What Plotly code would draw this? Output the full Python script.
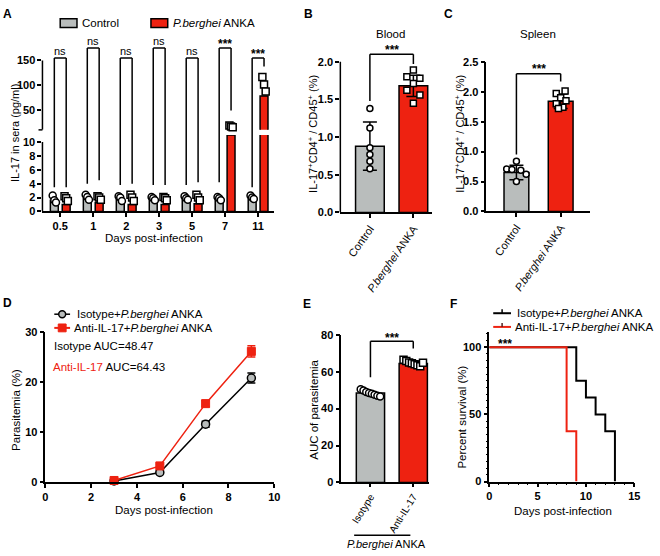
import plotly.graph_objects as go

W, H = 660, 556
GRAY = '#b9bdbc'
RED = '#ee2211'
FONT = 'Liberation Sans, Arial, sans-serif'

# --- Panel A: serum IL-17 by day ---
days = ['0.5', '1', '2', '3', '5', '7', '11']
ctrl_mean = [1.6, 1.9, 1.7, 1.8, 1.9, 1.8, 2.0]
pba_mean = [1.0, 1.3, 1.0, 1.0, 1.1, 11.0, 79.0]
ctrl_pts = [[2.3, 1.6, 1.3], [2.4, 2.1, 1.7], [2.2, 2.0, 1.5], [2.1, 1.9, 1.6],
            [2.2, 1.9, 1.7], [2.1, 1.9, 1.6], [2.3, 2.0, 1.8]]
pba_pts = [[2.2, 1.9, 1.5], [2.2, 2.0, 1.7], [2.4, 2.0, 1.5], [2.1, 1.9, 1.6],
           [2.4, 2.0, 1.6], [20.0, 18.0, 16.0], [117.0, 102.0, 88.0]]
sig_a = ['ns', 'ns', 'ns', 'ns', 'ns', '***', '***']
bracket_top_a = [155, 175, 155, 175, 155, 175, 155]
left_leg_a = [3.5, 4.0, 3.8, 3.8, 3.8, 4.2, 3.5]
right_leg_a = [3.5, 4.5, 4.0, 3.8, 4.2, 50, 138]
right_leg_upper = [False, False, False, False, False, True, True]

# --- Panel B / C: IL-17+CD4+ / CD45+ ---
groups_bc = ['Control', '<i>P.berghei</i> ANKA']
blood_mean = [0.88, 1.68]
blood_sd = [0.32, 0.14]
blood_ctrl = [1.38, 1.12, 0.86, 0.77, 0.68, 0.58]
blood_pba = [1.89, 1.80, 1.78, 1.71, 1.62, 1.56, 1.45]
spleen_mean = [0.65, 1.84]
spleen_sd = [0.12, 0.12]
spleen_ctrl = [0.84, 0.71, 0.70, 0.69, 0.62, 0.50]
spleen_pba = [2.01, 1.97, 1.90, 1.85, 1.80, 1.74, 1.72]

# --- Panel D: parasitemia ---
para_days = [3, 5, 7, 9]
iso_para = [0.3, 2.0, 11.6, 20.8]
iso_sem = [0.2, 0.3, 0.6, 1.0]
anti_para = [0.4, 3.3, 15.7, 26.1]
anti_sem = [0.2, 0.4, 0.6, 1.1]

# --- Panel E: AUC ---
groups_e = ['Isotype', 'Anti-IL-17']
auc_mean = [48.47, 64.43]
auc_iso = [50.5, 49.8, 49.0, 48.5, 48.0, 47.5, 47.0, 46.5]
auc_anti = [66.5, 65.8, 65.0, 64.5, 64.0, 63.5, 63.0, 64.8]

# --- Panel F: survival ---
surv_iso_days = [0, 9, 10, 11, 12, 13]
surv_iso = [100, 75, 62.5, 50, 37.5, 0]
surv_anti_days = [0, 8, 9]
surv_anti = [100, 37.5, 0]


def px(x):
    return x / W


def py(y):
    return 1 - y / H


def dom_x(a, b):
    return [a / W, b / W]


def dom_y(top, bottom):
    return [1 - bottom / H, 1 - top / H]


def bar_marker(color):
    return dict(color=color, line=dict(color='black', width=1.5))


def dot(symbol, size=7, fill='white'):
    return dict(symbol=symbol, size=size, color=fill, line=dict(color='black', width=1.5))


def spread(center, n, step):
    return [center + (k - (n - 1) / 2) * step for k in range(n)]


fig = go.Figure()
shapes = []
anns = []


def line(x0, y0, x1, y1, color='black', width=1.5, xref='paper', yref='paper'):
    shapes.append(dict(type='line', x0=x0, y0=y0, x1=x1, y1=y1, xref=xref, yref=yref,
                       line=dict(color=color, width=width)))


def text(t, x, y, size=11, bold=False, angle=0, xanchor='center', color='black'):
    anns.append(dict(text=t, x=px(x), y=py(y), xref='paper', yref='paper', showarrow=False,
                     xanchor=xanchor, yanchor='middle', textangle=angle,
                     font=dict(family=FONT, size=size, color=color,
                               weight='bold' if bold else 'normal')))


# ---------- Panel A (broken y axis) ----------
A_CUT = 11
OFF = 0.18
xc = [i - OFF for i in range(len(days))]
xp = [i + OFF for i in range(len(days))]
jit = [-0.05, 0.0, 0.05]
for ya in ['y', 'y2']:
    upper = ya == 'y2'

    def keep(v):
        if upper:
            return v if v > A_CUT else None
        return v

    fig.add_trace(go.Bar(x=xc, y=[keep(v) for v in ctrl_mean], width=0.24, marker=bar_marker(GRAY),
                         xaxis='x', yaxis=ya))
    fig.add_trace(go.Bar(x=xp, y=[keep(v) for v in pba_mean], width=0.24, marker=bar_marker(RED),
                         xaxis='x', yaxis=ya))
    for xs0, pts, sym in [(xc, ctrl_pts, 'circle'), (xp, pba_pts, 'square')]:
        xs, ys = [], []
        for i, vals in enumerate(pts):
            for j, v in enumerate(vals):
                if (v > A_CUT) == upper:
                    xs.append(xs0[i] + jit[j])
                    ys.append(v)
        fig.add_trace(go.Scatter(x=xs, y=ys, mode='markers', marker=dot(sym), cliponaxis=not upper,
                                 xaxis='x', yaxis=ya))

# pixel geometry of the two segments
A_LO = (0, 11, 210, 131.9)
A_HI = (11, 180, 126.6, 40.4)


def seg(v, s):
    v0, v1, p0, p1 = s
    return py(p0 + (p1 - p0) * (v - v0) / (v1 - v0))


for i in range(len(days)):
    top = seg(bracket_top_a[i], A_HI)
    line(xc[i], top, xp[i], top, xref='x')
    line(xc[i], top, xc[i], seg(left_leg_a[i], A_LO), xref='x')
    rb = seg(right_leg_a[i], A_HI) if right_leg_upper[i] else seg(right_leg_a[i], A_LO)
    line(xp[i], top, xp[i], rb, xref='x')
    ns = sig_a[i] == 'ns'
    anns.append(dict(text=sig_a[i], x=i, y=top, xref='x', yref='paper', showarrow=False,
                     yanchor='bottom', yshift=-1 if ns else -5,
                     font=dict(family=FONT, size=11 if ns else 12, color='black',
                               weight='normal' if ns else 'bold')))
# y axis segments (broken axis)
line(px(40), 0, px(40), 10, yref='y')
line(px(40), A_CUT, px(40), 150, yref='y2')
line(px(36), seg(A_CUT, A_HI), px(40), seg(A_CUT, A_HI))

# legend A
shapes.append(dict(type='rect', x0=px(58), x1=px(75), y0=py(13), y1=py(22), xref='paper', yref='paper',
                   fillcolor=GRAY, line=dict(color='black', width=1.5)))
shapes.append(dict(type='rect', x0=px(150), x1=px(167), y0=py(13), y1=py(22), xref='paper', yref='paper',
                   fillcolor=RED, line=dict(color='black', width=1.5)))
text('Control', 78, 17.5, size=11.5, xanchor='left')
text('<i>P.berghei</i> ANKA', 170, 17.5, size=11.5, xanchor='left')
text('IL-17 in sera (pg/ml)', 12, 130, angle=-90)
text('Days post-infection', 153, 237, size=11.5)

# ---------- Panel B ----------
fig.add_trace(go.Bar(x=[0, 1], y=blood_mean, width=0.66,
                     marker=dict(color=[GRAY, RED], line=dict(color='black', width=1.5)),
                     error_y=dict(type='data', array=blood_sd, color='black', thickness=1.5, width=7),
                     xaxis='x3', yaxis='y3'))
fig.add_trace(go.Scatter(x=[0] * len(blood_ctrl), y=blood_ctrl, mode='markers', marker=dot('circle', 6),
                         xaxis='x3', yaxis='y3'))
fig.add_trace(go.Scatter(x=[1, 0.85, 1.15, 1, 0.85, 1.15, 1], y=blood_pba, mode='markers',
                         marker=dot('square', 6), xaxis='x3', yaxis='y3'))
line(px(342), 0, px(342), 2.0, yref='y3')
line(0, 2.1, 1, 2.1, xref='x3', yref='y3')
line(0, 2.1, 0, 1.48, xref='x3', yref='y3')
line(1, 2.1, 1, 1.97, xref='x3', yref='y3')
text('Blood', 393, 29, size=11.5)
text('***', 394, 45, size=12, bold=True)
text('IL-17<sup>+</sup>CD4<sup>+</sup> / CD45<sup>+</sup> (%)', 314, 131, angle=-90)

# ---------- Panel C ----------
fig.add_trace(go.Bar(x=[0, 1], y=spleen_mean, width=0.56,
                     marker=dict(color=[GRAY, RED], line=dict(color='black', width=1.5)),
                     error_y=dict(type='data', array=spleen_sd, color='black', thickness=1.5, width=7),
                     xaxis='x4', yaxis='y4'))
fig.add_trace(go.Scatter(x=[0, -0.22, -0.1, 0.1, 0.22, 0], y=spleen_ctrl, mode='markers',
                         marker=dot('circle', 6), xaxis='x4', yaxis='y4'))
fig.add_trace(go.Scatter(x=[1.1, 0.9, 1.0, 1.12, 0.9, 1.05, 0.95], y=spleen_pba, mode='markers',
                         marker=dot('square', 6), xaxis='x4', yaxis='y4'))
line(0, 2.3, 1, 2.3, xref='x4', yref='y4')
line(0, 2.3, 0, 0.95, xref='x4', yref='y4')
line(1, 2.3, 1, 2.17, xref='x4', yref='y4')
text('Spleen', 542, 29, size=11.5)
text('***', 543, 64, size=12, bold=True)
text('IL-17<sup>+</sup>CD4<sup>+</sup> / CD45<sup>+</sup> (%)', 463, 131, angle=-90)

# ---------- Panel D ----------
fig.add_trace(go.Scatter(x=para_days, y=iso_para, mode='lines+markers', line=dict(color='black', width=1.5),
                         marker=dot('circle', 8, GRAY), cliponaxis=False,
                         error_y=dict(type='data', array=iso_sem, color='black', thickness=1.5, width=4),
                         xaxis='x5', yaxis='y5'))
fig.add_trace(go.Scatter(x=para_days, y=anti_para, mode='lines+markers', line=dict(color=RED, width=1.5),
                         marker=dict(symbol='square', size=8, color=RED, line=dict(color=RED, width=1)),
                         cliponaxis=False,
                         error_y=dict(type='data', array=anti_sem, color=RED, thickness=1.5, width=4),
                         xaxis='x5', yaxis='y5'))
line(px(52), py(315), px(68), py(315))
shapes.append(dict(type='circle', x0=px(56.5), x1=px(63.5), y0=py(318.5), y1=py(311.5), xref='paper',
                   yref='paper', fillcolor=GRAY, line=dict(color='black', width=1.5)))
line(px(52), py(329), px(68), py(329), color=RED, width=2)
shapes.append(dict(type='rect', x0=px(56), x1=px(64), y0=py(333), y1=py(325), xref='paper', yref='paper',
                   fillcolor=RED, line=dict(color=RED, width=1)))
text('Isotype+<i>P.berghei</i> ANKA', 73, 315, size=11.5, xanchor='left')
text('Anti-IL-17+<i>P.berghei</i> ANKA', 70, 329, size=11.5, xanchor='left')
text('Isotype AUC=48.47', 50, 347, size=11.5, xanchor='left')
text('<span style="color:%s">Anti-IL-17</span> AUC=64.43' % RED, 49, 369, size=11.5, xanchor='left')
text('Parasitemia (%)', 13, 413, size=11.5, angle=-90)
text('Days post-infection', 163, 515, size=11.5)

# ---------- Panel E ----------
fig.add_trace(go.Bar(x=[0, 1], y=auc_mean, width=0.66,
                     marker=dict(color=[GRAY, RED], line=dict(color='black', width=1.5)),
                     xaxis='x6', yaxis='y6'))
fig.add_trace(go.Scatter(x=spread(0, len(auc_iso), 0.065), y=auc_iso, mode='markers', marker=dot('circle', 7),
                         xaxis='x6', yaxis='y6'))
fig.add_trace(go.Scatter(x=spread(1, len(auc_anti), 0.065), y=auc_anti, mode='markers',
                         marker=dot('square', 7), xaxis='x6', yaxis='y6'))
line(0, 76.5, 1, 76.5, xref='x6', yref='y6')
line(0, 76.5, 0, 57, xref='x6', yref='y6')
line(1, 76.5, 1, 72.5, xref='x6', yref='y6')
text('***', 394, 339, size=12, bold=True)
line(px(356), py(541), px(413), py(541))
text('<i>P.berghei</i> ANKA', 389, 550, size=11)
text('AUC of parasitemia', 315, 413, size=11.5, angle=-90)

# ---------- Panel F ----------
fig.add_trace(go.Scatter(x=surv_iso_days, y=surv_iso, mode='lines', line=dict(color='black', width=2, shape='hv'),
                         cliponaxis=False, xaxis='x7', yaxis='y7'))
fig.add_trace(go.Scatter(x=surv_anti_days, y=surv_anti, mode='lines', line=dict(color=RED, width=2, shape='hv'),
                         cliponaxis=False, xaxis='x7', yaxis='y7'))
line(px(497), py(314), px(515), py(314), width=2)
line(px(506), py(314), px(506), py(310), width=1.5)
line(px(497), py(328), px(515), py(328), color=RED, width=2)
line(px(506), py(328), px(506), py(324), color='#552222', width=1.5)
text('Isotype+<i>P.berghei</i> ANKA', 519, 314, size=11.5, xanchor='left')
text('Anti-IL-17+<i>P.berghei</i> ANKA', 517, 328, size=11.5, xanchor='left')
text('***', 509, 345, size=12, bold=True)
text('Percent survival (%)', 465, 420, size=11.5, angle=-90)
text('Days post-infection', 568, 516, size=11.5)

# panel letters
for lab, x, y in [('A', 5, 8), ('B', 310, 8), ('C', 452, 8), ('D', 5, 304), ('E', 308, 305), ('F', 457, 305)]:
    text(lab, x, y, size=12, bold=True)

# ---------- axes ----------
tickfont = dict(family=FONT, size=11, color='black', weight='bold')
base = dict(showgrid=False, zeroline=False, linecolor='black', linewidth=1.5, ticks='outside',
            ticklen=4, tickwidth=1.5, tickcolor='black', tickfont=tickfont)
rot_font = dict(family=FONT, size=11, color='black', weight='normal')

fig.update_layout(
    width=W, height=H, margin=dict(l=0, r=0, t=0, b=0), showlegend=False,
    plot_bgcolor='white', paper_bgcolor='white', barmode='overlay',
    font=dict(family=FONT, color='black'),
    xaxis=dict(base, domain=dom_x(40, 275), range=[-0.54, 6.49], anchor='y', showline=True,
               tickvals=list(range(len(days))), ticktext=days),
    yaxis=dict(base, domain=dom_y(131.9, 210), range=[0, 11], anchor='x', showline=False,
               tickvals=[0, 2, 4, 6, 8, 10]),
    yaxis2=dict(base, domain=dom_y(40.4, 126.6), range=[A_CUT, 180], anchor='x', showline=False,
                tickvals=[50, 100, 150]),
    xaxis3=dict(base, domain=dom_x(342, 435), range=[-0.68, 1.43], anchor='y3', showline=True,
                tickvals=[0, 1], ticktext=groups_bc, tickangle=-55, tickfont=rot_font),
    yaxis3=dict(base, domain=dom_y(45.4, 211), range=[0, 2.15], anchor='x3', showline=False,
                tickvals=[0, 0.5, 1, 1.5, 2], ticktext=['0.0', '0.5', '1.0', '1.5', '2.0']),
    xaxis4=dict(base, domain=dom_x(490, 595), range=[-0.68, 1.66], anchor='y4', showline=True,
                tickvals=[0, 1], ticktext=groups_bc, tickangle=-55, tickfont=rot_font),
    yaxis4=dict(base, domain=dom_y(57, 210), range=[0, 2.5], anchor='x4', showline=True,
                tickvals=[0, 0.5, 1, 1.5, 2, 2.5], ticktext=['0.0', '0.5', '1.0', '1.5', '2.0', '2.5']),
    xaxis5=dict(base, domain=dom_x(43, 275), range=[0, 10], anchor='y5', showline=True, dtick=2),
    yaxis5=dict(base, domain=dom_y(333, 487), range=[0, 30], anchor='x5', showline=True, dtick=10),
    xaxis6=dict(base, domain=dom_x(343, 432), range=[-0.68, 1.37], anchor='y6', showline=True,
                tickvals=[0, 1], ticktext=groups_e, tickangle=-58, ticklen=3,
                tickfont=dict(rot_font, size=10)),
    yaxis6=dict(base, domain=dom_y(336, 487), range=[0, 80], anchor='x6', showline=True, dtick=20),
    xaxis7=dict(base, domain=dom_x(493, 640), range=[0, 15], anchor='y7', showline=True, dtick=5,
                minor=dict(ticks='outside', dtick=1, ticklen=2, tickwidth=1, tickcolor='black')),
    yaxis7=dict(base, domain=dom_y(333, 486), range=[0, 111.5], anchor='x7', showline=True,
                tickvals=[0, 50, 100],
                minor=dict(ticks='outside', dtick=5, ticklen=2, tickwidth=1, tickcolor='black')),
    shapes=shapes, annotations=anns,
)

fig.write_html('out.html', config={'displayModeBar': False},
               post_script="document.body.style.margin='0px';")
